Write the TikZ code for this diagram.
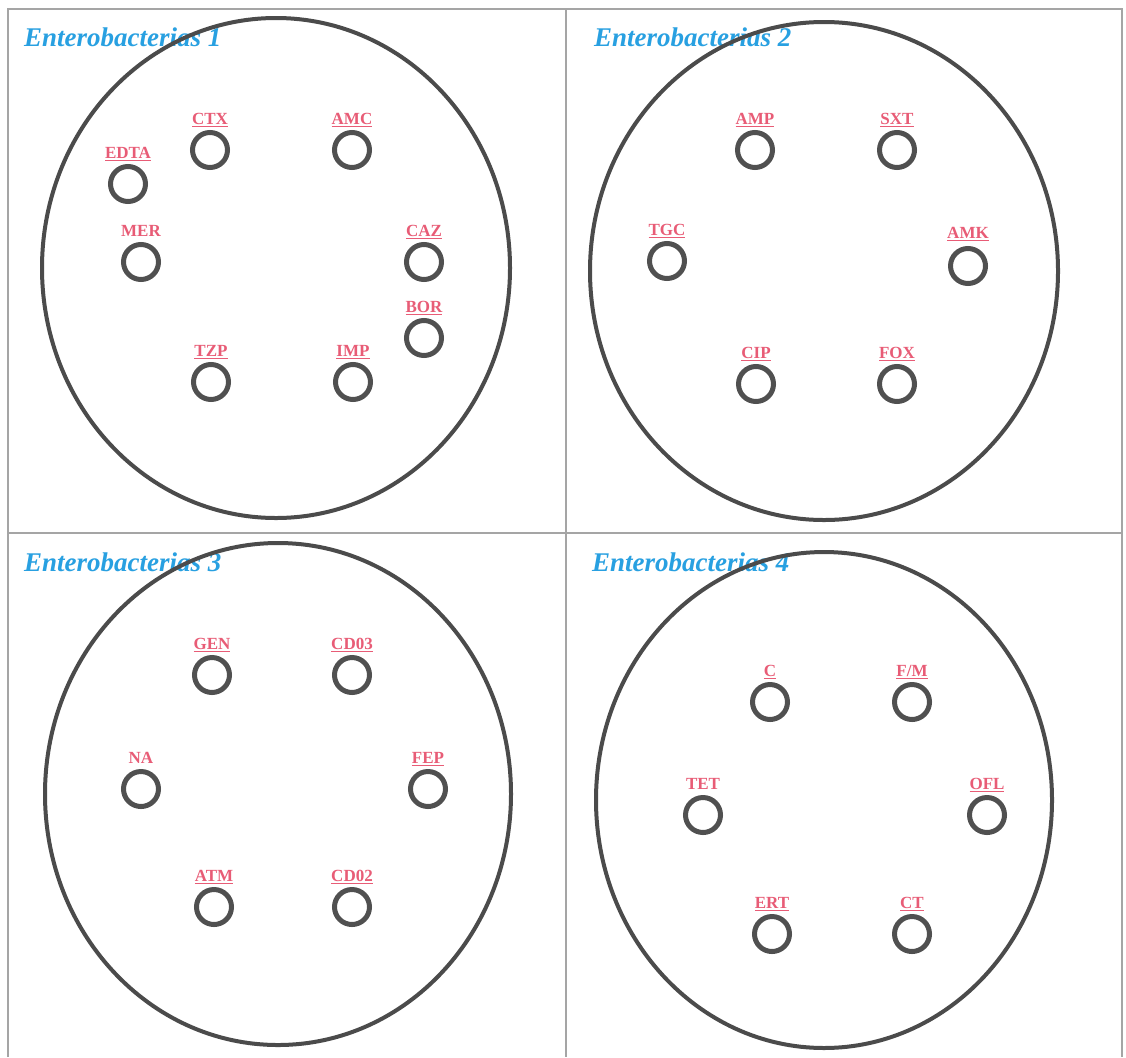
\documentclass[tikz,border=0pt]{standalone}
\usepackage{fontspec}
\setmainfont{Liberation Serif}
\usetikzlibrary{positioning}
\definecolor{titleblue}{RGB}{40,160,225}
\definecolor{drugred}{RGB}{232,92,118}
\definecolor{ringgrey}{RGB}{80,80,80}
\definecolor{dishgrey}{RGB}{75,75,75}
\definecolor{framegrey}{RGB}{165,165,165}

\begin{document}
\begin{tikzpicture}[
    x=1pt, y=-1pt,
    well/.style={draw=ringgrey, line width=5pt, circle, minimum size=35pt, inner sep=0pt},
    drug/.style={text=drugred, font=\fontsize{17}{18}\selectfont\bfseries, inner sep=0pt},
    plate/.style={text=titleblue, font=\fontsize{27}{30}\selectfont\bfseries\itshape, anchor=west, inner sep=0pt},
    dish/.style={draw=dishgrey, line width=4pt},
    frame/.style={draw=framegrey, line width=1.5pt}
]
\fill[white] (0,0) rectangle (1126,1057);

% frame and dividers
\draw[frame] (8,1057) -- (8,9) -- (1122,9) -- (1122,1057);
\draw[frame] (566,9) -- (566,1057);
\draw[frame] (8,533) -- (1122,533);

% titles
\node[plate] (t1) at (24,37) {Enterobacterias 1};
\node[plate] (t2) at (594,37) {Enterobacterias 2};
\node[plate] (t3) at (24,562) {Enterobacterias 3};
\node[plate] (t4) at (592,562) {Enterobacterias 4};

% dishes
\draw[dish] (276,268) ellipse (234 and 250);
\draw[dish] (824,271) ellipse (234 and 249);
\draw[dish] (278,794) ellipse (233 and 251);
\draw[dish] (824,800) ellipse (228 and 248);

% plate 1
\node[well] (edta) at (128,184) {};
\node[well] (ctx) at (210,150) {};
\node[well] (amc) at (352,150) {};
\node[well] (mer) at (141,262) {};
\node[well] (caz) at (424,262) {};
\node[well] (bor) at (424,338) {};
\node[well] (tzp) at (211,382) {};
\node[well] (imp) at (353,382) {};
\node[drug, above=3pt of edta] (edta-l) {\underline{EDTA}};
\node[drug, above=3pt of ctx] (ctx-l) {\underline{CTX}};
\node[drug, above=3pt of amc] (amc-l) {\underline{AMC}};
\node[drug, above=5pt of mer] (mer-l) {MER};
\node[drug, above=3pt of caz] (caz-l) {\underline{CAZ}};
\node[drug, above=3pt of bor] (bor-l) {\underline{BOR}};
\node[drug, above=3pt of tzp] (tzp-l) {\underline{TZP}};
\node[drug, above=3pt of imp] (imp-l) {\underline{IMP}};

% plate 2
\node[well] (amp) at (755,150) {};
\node[well] (sxt) at (897,150) {};
\node[well] (tgc) at (667,261) {};
\node[well] (amk) at (968,266) {};
\node[well] (cip) at (756,384) {};
\node[well] (fox) at (897,384) {};
\node[drug, above=3pt of amp] (amp-l) {\underline{AMP}};
\node[drug, above=3pt of sxt] (sxt-l) {\underline{SXT}};
\node[drug, above=3pt of tgc] (tgc-l) {\underline{TGC}};
\node[drug, above=5pt of amk] (amk-l) {\underline{AMK}};
\node[drug, above=3pt of cip] (cip-l) {\underline{CIP}};
\node[drug, above=3pt of fox] (fox-l) {\underline{FOX}};

% plate 3
\node[well] (gen) at (212,675) {};
\node[well] (cd03) at (352,675) {};
\node[well] (na) at (141,789) {};
\node[well] (fep) at (428,789) {};
\node[well] (atm) at (214,907) {};
\node[well] (cd02) at (352,907) {};
\node[drug, above=3pt of gen] (gen-l) {\underline{GEN}};
\node[drug, above=3pt of cd03] (cd03-l) {\underline{CD03}};
\node[drug, above=5pt of na] (na-l) {NA};
\node[drug, above=3pt of fep] (fep-l) {\underline{FEP}};
\node[drug, above=3pt of atm] (atm-l) {\underline{ATM}};
\node[drug, above=3pt of cd02] (cd02-l) {\underline{CD02}};

% plate 4
\node[well] (chl) at (770,702) {};
\node[well] (fm) at (912,702) {};
\node[well] (tet) at (703,815) {};
\node[well] (ofl) at (987,815) {};
\node[well] (ert) at (772,934) {};
\node[well] (ct) at (912,934) {};
\node[drug, above=3pt of chl] (chl-l) {\underline{C}};
\node[drug, above=3pt of fm] (fm-l) {\underline{F/M}};
\node[drug, above=5pt of tet] (tet-l) {TET};
\node[drug, above=3pt of ofl] (ofl-l) {\underline{OFL}};
\node[drug, above=3pt of ert] (ert-l) {\underline{ERT}};
\node[drug, above=3pt of ct] (ct-l) {\underline{CT}};
\end{tikzpicture}
\end{document}
